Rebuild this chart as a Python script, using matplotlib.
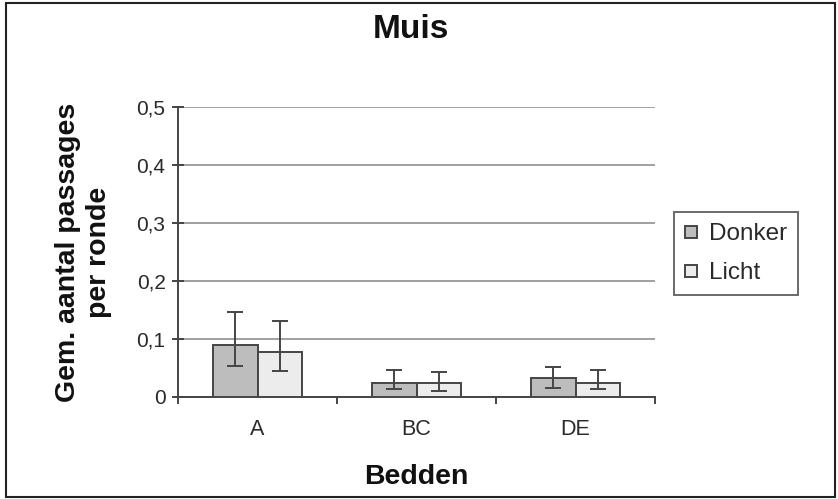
import matplotlib
matplotlib.use("Agg")
import matplotlib.pyplot as plt
import numpy as np
from matplotlib.patches import Rectangle

categories = ["A", "BC", "DE"]
donker = [0.089, 0.025, 0.033]
donker_lo = [0.053, 0.014, 0.015]
donker_hi = [0.147, 0.047, 0.052]
licht = [0.077, 0.024, 0.025]
licht_lo = [0.044, 0.011, 0.013]
licht_hi = [0.131, 0.043, 0.047]
yticks = [0, 0.1, 0.2, 0.3, 0.4, 0.5]
ytick_labels = ["0", "0,1", "0,2", "0,3", "0,4", "0,5"]

plt.rcParams['font.family'] = ['Liberation Sans', 'DejaVu Sans']

fig = plt.figure(figsize=(8.38, 4.99), dpi=100)
W, H = 838, 499
ax = fig.add_axes([178 / W, 1 - 397 / H, (655 - 178) / W, (397 - 107) / H])

x = np.arange(len(categories))
bw = 0.28
d = np.array(donker); l = np.array(licht)
derr = [d - np.array(donker_lo), np.array(donker_hi) - d]
lerr = [l - np.array(licht_lo), np.array(licht_hi) - l]
ax.bar(x - bw / 2, d, bw, color="#bdbdbd", edgecolor="#454545", linewidth=1.4, label="Donker", zorder=3)
ax.bar(x + bw / 2, l, bw, color="#ececec", edgecolor="#454545", linewidth=1.4, label="Licht", zorder=3)
ax.errorbar(x - bw / 2, d, yerr=derr, fmt="none", ecolor="#454545", elinewidth=1.4, capsize=6, capthick=1.4, zorder=4)
ax.errorbar(x + bw / 2, l, yerr=lerr, fmt="none", ecolor="#454545", elinewidth=1.4, capsize=6, capthick=1.4, zorder=4)

ax.set_xlim(-0.5, 2.5)
ax.set_ylim(0, 0.5)
ax.set_yticks(yticks)
ax.set_yticklabels(ytick_labels, fontsize=15, color="#2a2a2a")
ax.set_xticks(x)
ax.set_xticklabels(categories, fontsize=15.5, color="#2a2a2a")
ax.tick_params(axis="x", length=0, pad=16)
ax.set_xticks([-0.5, 0.5, 1.5, 2.5], minor=True)
ax.tick_params(axis="x", which="minor", length=5, width=1.4, color="#454545")
ax.tick_params(axis="y", length=8, direction="inout", width=1.4, color="#454545", pad=5)
for s in ["top", "right"]:
    ax.spines[s].set_visible(False)
for s in ["left", "bottom"]:
    ax.spines[s].set_color("#454545")
    ax.spines[s].set_linewidth(1.4)
ax.yaxis.grid(True, color="#a0a0a0", linewidth=1.4, zorder=0)
ax.set_axisbelow(True)

ax.set_xlabel("Bedden", fontsize=20.5, fontweight="bold", labelpad=17, color="#111111")
ax.set_ylabel("Gem. aantal passages\nper ronde", fontsize=20.5, fontweight="bold", labelpad=18,
              linespacing=1.25, color="#111111")

fig.text(411 / W, 1 - 30 / H, "Muis", ha="center", va="center", fontsize=24, fontweight="bold",
         color="#111111")

leg = fig.legend(loc="upper left", bbox_to_anchor=(674 / W, 1 - 212 / H), fontsize=17.5,
                 frameon=True, fancybox=False, edgecolor="#454545", handlelength=0.5,
                 handleheight=0.5, handletextpad=0.5, borderpad=0.45, labelspacing=0.7,
                 borderaxespad=0)
leg.get_frame().set_linewidth(1.4)
for t in leg.get_texts():
    t.set_color("#2a2a2a")
for h in leg.legend_handles:
    h.set_height(h.get_width())

fig.patches.append(Rectangle((6 / W, 2 / H), 829 / W, 494 / H, transform=fig.transFigure,
                             fill=False, edgecolor="#222222", linewidth=1.5))

fig.savefig("out.png", dpi=100)
